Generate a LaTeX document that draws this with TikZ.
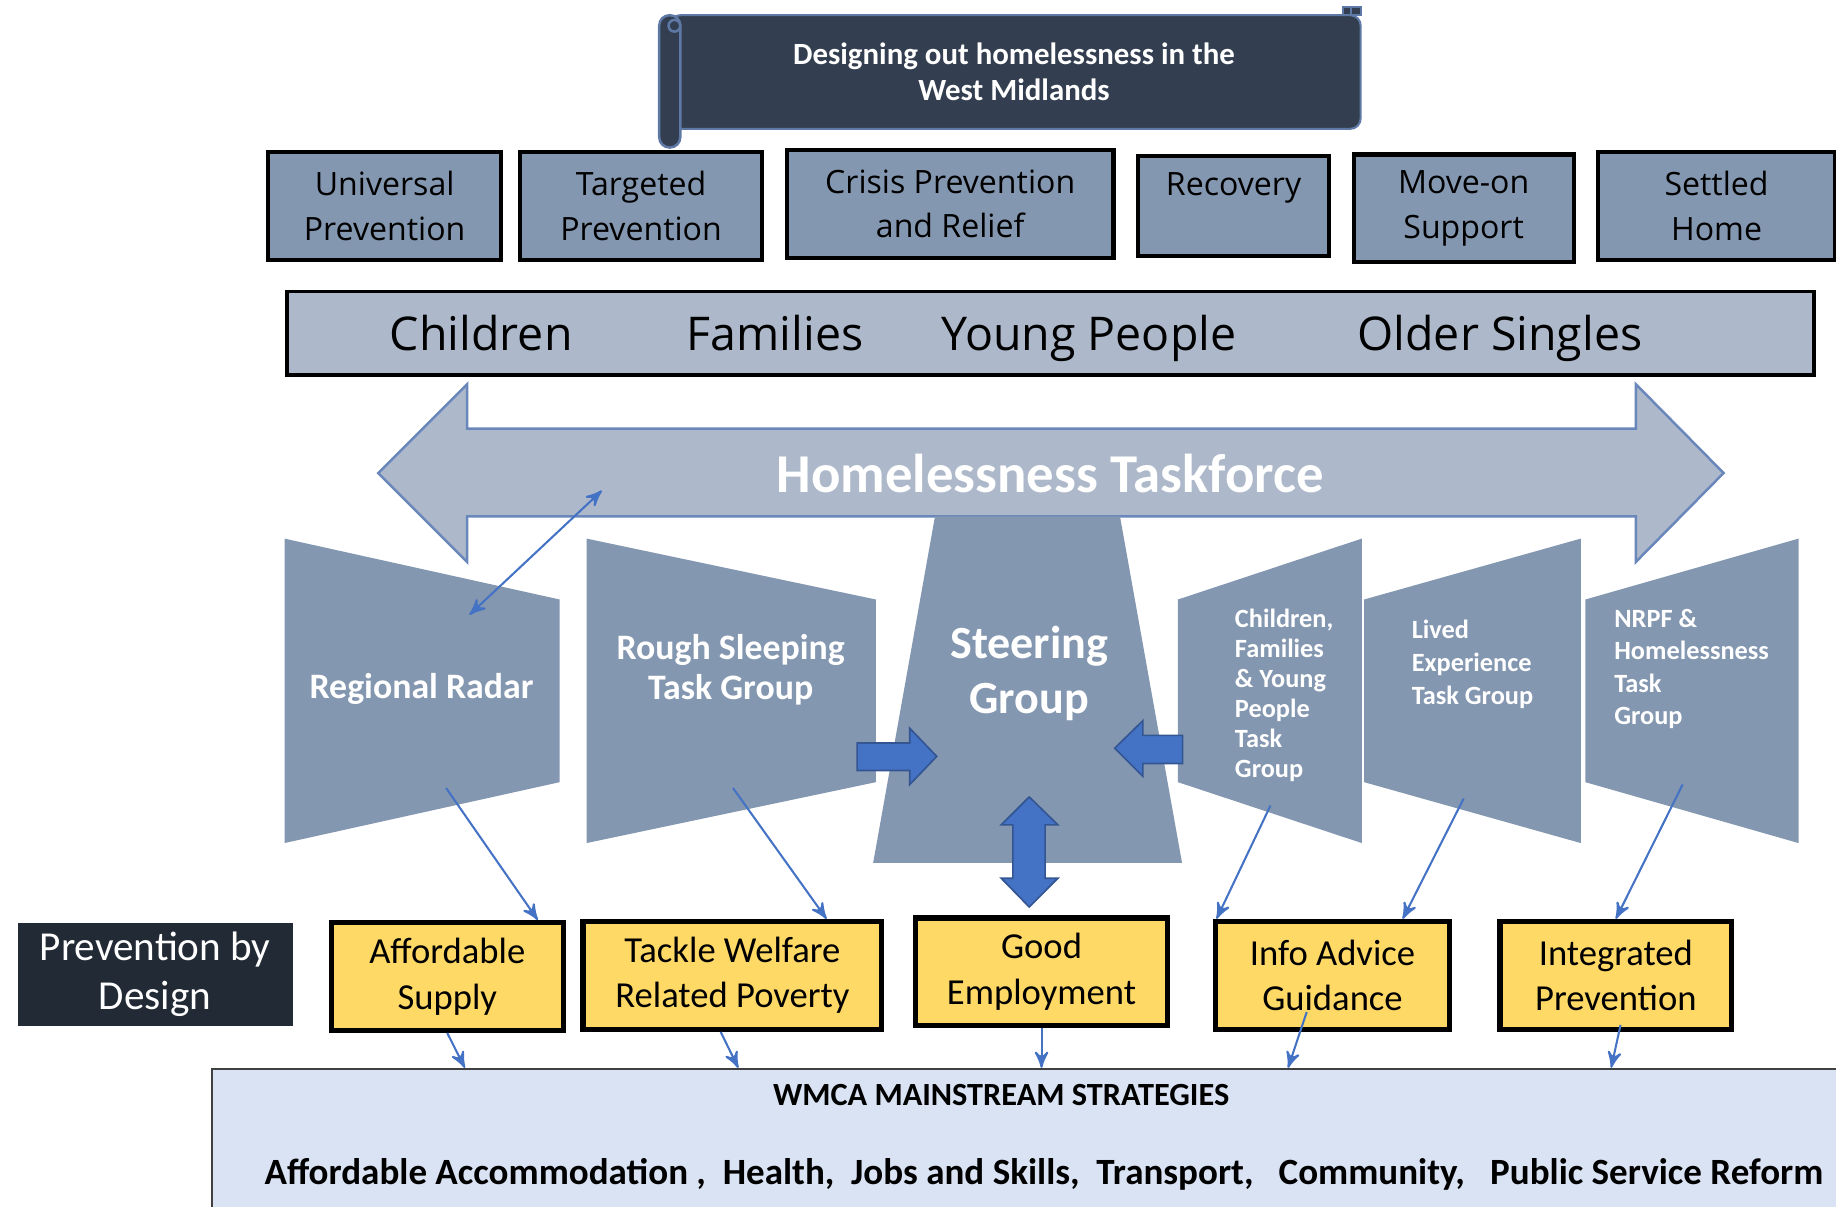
\documentclass[tikz,border=0pt]{standalone}
\usepackage{fontspec}
\setmainfont{Carlito}
\newfontfamily\segoe{Open Sans}
\usetikzlibrary{arrows,positioning,calc}

\definecolor{slate}{HTML}{8497B0}
\definecolor{paleslate}{HTML}{ADB9CA}
\definecolor{navy}{HTML}{333F50}
\definecolor{ink}{HTML}{222A35}
\definecolor{gold}{HTML}{FFD966}
\definecolor{ice}{HTML}{DAE3F3}
\definecolor{accent}{HTML}{4472C4}
\definecolor{rim}{HTML}{6A87BC}

\newcommand{\fs}[2]{\fontsize{#1}{#2}\selectfont}

\begin{document}
\begin{tikzpicture}[x=0.1mm,y=-0.1mm,>=stealth',
  stage/.style={draw=black,line width=1pt,fill=slate,align=center,inner sep=0pt,font=\segoe\fs{7.8}{10.8}},
  aim/.style={draw=black,line width=1.3pt,fill=gold,align=center,inner sep=0pt,font=\fs{8.9}{11.1}},
  grouptext/.style={text=white,font=\bfseries\fs{6.4}{7.8},align=left,anchor=west,inner sep=0pt},
  link/.style={accent,line width=0.5pt},
  block/.style={fill=accent,draw=accent!75!black,line width=0.4pt}]

\useasboundingbox (0,0) rectangle (1568,1030);

\filldraw[navy,draw=rim!80!navy,line width=0.5pt,rounded corners=2.5pt] (572,13) -- (1162,13) -- (1162,110) -- (572,110) -- cycle;
\filldraw[navy,draw=rim!80!navy,line width=0.6pt,rounded corners=2.5pt] (563,13) rectangle (581,126);
\draw[rim!80!navy,line width=0.6pt] (576,22) circle (5);
\filldraw[navy,draw=rim!80!navy,line width=0.5pt] (1147,6) rectangle (1162,13);
\draw[rim!80!navy,line width=0.4pt] (1154,6) -- (1154,12);
\node[text=white,font=\bfseries\fs{7.5}{8.8},align=center] (title) at (866,61) {Designing out homelessness in the\\West Midlands};

\node[stage,minimum width=19.9mm,minimum height=9.2mm] (univ) at (328.5,176) {Universal\\Prevention};
\node[stage,minimum width=20.7mm,minimum height=9.2mm] (target) at (547.5,176) {Targeted\\Prevention};
\node[stage,minimum width=27.9mm,minimum height=9.2mm] (crisis) at (811.5,174) {Crisis Prevention\\and Relief};
\node[stage,minimum width=16.3mm,minimum height=8.6mm] (recov) at (1053.5,176) {Recovery\\\mbox{}};
\node[stage,minimum width=18.8mm,minimum height=9.2mm] (moveon) at (1250,178) {Move-on\\Support};
\node[stage,minimum width=20.2mm,minimum height=9.2mm] (settled) at (1466,176) {Settled\\Home};

\node[draw=black,line width=0.9pt,fill=paleslate,minimum width=130.4mm,minimum height=7.1mm] (cohort) at (897,284.5) {};
\foreach \name/\x/\txt in {kids/411/Children,fam/662/Families,young/930/Young People,older/1281/Older Singles}
  \node[font=\segoe\fs{11.3}{13},anchor=base] (\name) at (\x,299) {\txt};

\filldraw[paleslate,draw=rim,line width=0.6pt] (323,404) -- (399,328) -- (399,366) -- (1397,366) -- (1397,328) -- (1472,404)
  -- (1397,480) -- (1397,441) -- (399,441) -- (399,480) -- cycle;
\node[text=white,font=\bfseries\fs{13.3}{15}] (force) at (897,404) {Homelessness Taskforce};

\fill[slate] (243,460) -- (478,512) -- (478,668) -- (243,720) -- cycle;
\fill[slate] (501,460) -- (748,512) -- (748,668) -- (501,720) -- cycle;
\fill[slate] (798.5,441) -- (956.5,441) -- (1009.5,737) -- (745.7,737) -- cycle;
\fill[slate] (1006,512) -- (1163,460) -- (1163,720) -- (1006,668) -- cycle;
\fill[slate] (1165,512) -- (1350,460) -- (1350,720) -- (1165,668) -- cycle;
\fill[slate] (1354,512) -- (1536,460) -- (1536,720) -- (1354,668) -- cycle;

\node[text=white,font=\bfseries\fs{8.7}{10}] (radar) at (360,588) {Regional Radar};
\node[text=white,font=\bfseries\fs{8.7}{9.7},align=center] (rough) at (624,572) {Rough Sleeping\\Task Group};
\node[text=white,font=\bfseries\fs{11.2}{13.4},align=center] (steer) at (879,575.5) {Steering\\Group};
\node[grouptext,font=\bfseries\fs{6.4}{7.3}] (cfyp) at (1054,593.5) {Children,\\Families\\\& Young\\People\\Task\\Group};
\node[grouptext,font=\bfseries\fs{6.4}{8.1}] (lived) at (1205,567.5) {Lived\\Experience\\Task Group};
\node[grouptext,font=\bfseries\fs{6.4}{7.9}] (nrpf) at (1378,571.5) {NRPF \&\\Homelessness\\Task\\Group};

\filldraw[block] (732,634.5) -- (777,634.5) -- (777,622) -- (800,646) -- (777,670) -- (777,658) -- (732,658) -- cycle;
\filldraw[block] (1010,628) -- (976,628) -- (976,615.5) -- (952,639) -- (976,663) -- (976,652) -- (1010,652) -- cycle;
\filldraw[block] (879,680.6) -- (903.5,704.5) -- (892.6,704.5) -- (892.6,750) -- (903.5,750) -- (879,774.6)
  -- (855,750) -- (865,750) -- (865,704.5) -- (855,704.5) -- cycle;

\node[fill=ink,text=white,align=center,inner sep=0pt,minimum width=23.5mm,minimum height=8.8mm,font=\fs{10}{12}] (pbd) at (132.5,832) {Prevention by\\Design};
\node[aim,minimum width=19.8mm,minimum height=9.2mm] (afford) at (382,834) {Affordable\\Supply};
\node[aim,minimum width=25.5mm,minimum height=9.2mm] (tackle) at (625.5,833) {Tackle Welfare\\Related Poverty};
\node[aim,minimum width=21.5mm,minimum height=9.2mm] (good) at (889.5,830) {Good\\Employment};
\node[aim,minimum width=20mm,minimum height=9.2mm] (info) at (1138,833) {Info Advice\\Guidance};
\node[aim,minimum width=19.8mm,minimum height=9.2mm] (integ) at (1380,833) {Integrated\\Prevention};

\node[draw=black!75,line width=0.6pt,fill=ice,anchor=north west,minimum width=142mm,minimum height=15mm] (wmca) at (180,912) {};
\node[font=\bfseries\fs{7.85}{9}] (wmcahead) at (855,935) {WMCA MAINSTREAM STRATEGIES};
\node[font=\bfseries\fs{9}{10}] (wmcalist) at (891.5,1003) {Affordable Accommodation ,\ \ Health,\ \ Jobs and Skills,\ \ Transport,\ \ \ Community,\ \ \ Public Service Reform};

\coordinate (radar-in) at (401,525);
\coordinate (force-in) at (514,419);
\coordinate (radar-out) at (381,673);
\coordinate (rough-out) at (626,673);
\coordinate (cfyp-out) at (1085,688);
\coordinate (lived-out) at (1250,682);
\coordinate (nrpf-out) at (1437,670);

\path[<->,link] (radar-in) edge (force-in);
\path[->,link] (radar-out) edge (afford.32)
  (rough-out) edge (tackle.31)
  (cfyp-out) edge (info.154)
  (lived-out) edge ([xshift=6mm]info.north)
  (nrpf-out) edge (integ.north);
\path[->,link] (afford.south) edge ([xshift=1.5mm]afford.south |- wmca.north)
  ([xshift=-1mm]tackle.south) edge ([xshift=0.5mm]tackle.south |- wmca.north)
  (good.south) edge (good.south |- wmca.north)
  ([xshift=-2.2mm,yshift=1.7mm]info.south) edge ([xshift=-3.8mm]info.south |- wmca.north)
  ([xshift=0.4mm,yshift=0.6mm]integ.south) edge ([xshift=-0.4mm]integ.south |- wmca.north);

\end{tikzpicture}
\end{document}
